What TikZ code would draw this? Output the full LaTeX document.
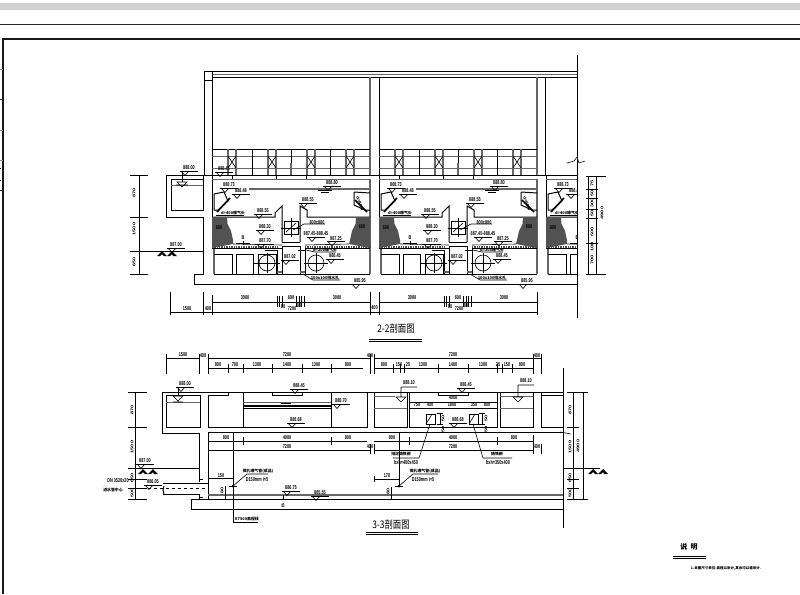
\documentclass[tikz,border=0pt]{standalone}
\usepackage{fontspec}
\setmainfont{Liberation Sans}
\newfontfamily\cjk{Noto Sans CJK SC}
\usetikzlibrary{calc, positioning}
\definecolor{cadgrey}{gray}{0.4}
\tikzset{
  wall/.style={line width=1pt, black},
  greywall/.style={line width=1.4pt, cadgrey},
  thinline/.style={line width=.6pt, black},
  dimline/.style={line width=.65pt, black},
  dimtxt/.style={font=\fontsize{5.6}{5.6}\selectfont\bfseries, transform shape, xscale=.68, inner sep=0pt},
  vdimtxt/.style={dimtxt, rotate=90},
  cjktxt/.style={font=\fontsize{3.9}{4}\selectfont\cjk\bfseries, inner sep=0pt},
  titletxt/.style={font=\fontsize{10.5}{10.5}\selectfont\cjk, transform shape, xscale=.8, inner sep=0pt},
  dark/.style={fill=black!68},
}
% elevation mark: name, x, y, text
\newcommand{\elevmark}[4]{
  \node[dimtxt] (#1) at (#2,#3) {#4};
  \draw[thinline] (#2-9,#3+3) -- (#2+9,#3+3);
  \draw[thinline] (#2-8,#3+3) -- (#2-4,#3+7.5) -- (#2,#3+3);
}
% ground hatch
\newcommand{\groundmark}[2]{
  \fill[black] (#1-10,#2+3) -- (#1-5,#2-2) -- (#1,#2+3) -- (#1+5,#2-2) -- (#1+10,#2+3)
    -- (#1+6,#2+3) -- (#1+5,#2+1) -- (#1+3,#2+3) -- (#1-3,#2+3) -- (#1-5,#2+1) -- (#1-7,#2+3) -- cycle;
}
\begin{document}
\begin{tikzpicture}[x=1pt, y=-1pt]
\useasboundingbox (0,0) rectangle (800,594);

% screen header and frame
\fill[black!18] (0,3) rectangle (800,10);
\draw[black!85, line width=.8pt] (0,24) -- (800,24);
\draw[black!90, line width=1.4pt] (800,39) -- (3,39) -- (3,594);
\foreach \ypos/\tone in {69/45, 99/85, 130/45, 160/45, 190/85} {
  \draw[black!\tone, line width=.7pt] (0,\ypos) -- (3,\ypos);
}
\draw[line width=1pt] (0,168) -- (1,168) (0,180) -- (1,180);

%%%% 2-2
\draw[wall] (204,80) -- (204,71) -- (577,71);
\draw[greywall, line width=.8pt] (212,74) -- (577,74);
\draw[wall] (212,77) -- (577,77);
\draw[wall] (204,80) -- (212,80);
\draw[wall] (204,80) -- (204,175);
\draw[wall] (212,71) -- (212,175);
\draw[greywall] (370,77) -- (370,175) (537,77) -- (537,175);
\draw[wall] (379,77) -- (379,175) (545,77) -- (545,175);
\draw[wall] (577,55) -- (577,318);
\draw[thinline] (567,163) -- (574,161) -- (577,157) -- (579,163) -- (585,161);

% screens
\foreach \bay in {0,167} {
  \begin{scope}[shift={(\bay,0)}]
    \draw[wall] (212,149) -- (370,149);
    \draw[greywall, line width=.9pt] (212,156) -- (370,156) (212,168) -- (370,168);
    \foreach \xpos in {228,236,252,268,276,291,307,315,330,346,354} {
      \draw[thinline] (\xpos,149) -- (\xpos,175);
    }
    \foreach \xpos in {228,268,307,346} {
      \draw[greywall, line width=1.1pt] (\xpos,149) -- (\xpos,175) (\xpos+8,149) -- (\xpos+8,175);
      \draw[thinline] (\xpos,156) -- (\xpos+8,168) (\xpos+8,156) -- (\xpos,168);
    }
    \draw[greywall] (291,163) -- (291,175);
    \foreach \xpos in {232,276,306} {
      \draw[wall] (\xpos,175) -- (\xpos,179);
    }
  \end{scope}
}

% tank bays
\begin{scope}
\clip (0,0) rectangle (577,594);
\foreach \bay in {0,167,334} {
  \begin{scope}[shift={(\bay,0)}]
    \draw[wall] (212,175) -- (212,248);
    \draw[greywall, line width=.9pt] (212,179) -- (370,179);
    \draw[greywall] (370,179) -- (370,274);
    \draw[greywall] (249,189) -- (370,189);
    \draw[thinline] (318,190) -- (332,190) (321,192) -- (329,192);
    % weirs
    \draw[wall] (214,194) -- (224,192) -- (228,201) -- (218,210) -- (214,210) -- cycle;
    \draw[wall, line width=1.6pt] (230,198) -- (217,212);
    \draw[wall] (354,192) -- (370,193) (354,192) -- (354,205) -- (365,210) -- (370,210);
    \draw[wall, line width=1.6pt] (355,200) -- (367,212);
    % water line
    \draw[wall] (212,217) -- (275,217) -- (275,213) -- (282,206) -- (282,242);
    \draw[wall] (370,217) -- (307,217) -- (307,210) -- (300,206) -- (300,242);
    \draw[thinline] (282,242) -- (300,242);
    % sludge hoppers
    \fill[dark] (212,217) -- (227,217) -- (227.5,224) -- (231,231) -- (233,240) -- (233,244) -- (212,248) -- cycle;
    \fill[dark] (370,217) -- (356,217) -- (355.5,224) -- (352,231) -- (350,240) -- (349,244) -- (370,248) -- cycle;
    \draw[thinline] (233,244) -- (282,245) (349,244) -- (305,245);
    \draw[black!70, line width=2pt, dash pattern=on 1pt off .7pt] (212,247) -- (278,247) (305,247) -- (370,247);
    \draw[wall] (212,248.5) -- (282,248.5) (305,248.5) -- (370,248.5);
    % centre box
    \draw[wall] (284,221) rectangle (298,234);
    \draw[thinline] (291,218) -- (291,237) (281,228) -- (301,228);
    \draw[thinline] (286,232) -- (296,223);
    \draw[thinline] (293,230) -- (304,224) -- (325,224);
    % lower rooms
    \draw[greywall, line width=1.2pt] (214,249) -- (214,274);
    \draw[wall] (214,254) -- (232,254) -- (232,274);
    \draw[wall] (236,274) -- (236,254) -- (253,254) -- (253,274);
    \draw[wall] (258,274) -- (258,254) -- (276,254) -- (276,274);
    \draw[thinline] (265,250) -- (277,250) -- (277,274);
    \draw[wall] (282,246) -- (300,246) -- (300,274) (282,246) -- (282,274);
    \draw[wall] (305,248) -- (305,274);
    \draw[wall] (214,274) -- (370,274);
    \draw[greywall, line width=1.5pt] (300,272) -- (305,272) (277,272) -- (282,272);
    \draw[thinline] (267,263) circle (8);
    \draw[thinline] (254,263) -- (280,263) (267,253) -- (267,273);
    \draw[thinline] (316,263) circle (8);
    \draw[thinline] (304,263) -- (328,263) (316,253) -- (316,273);
    % leaders
    \draw[line width=1pt] (298,250) -- (306,250);
    \draw[thinline] (306,250) -- (315,252) -- (336,252);
    \draw[thinline] (303,274) -- (313,280) -- (340,280);
    \draw[thinline] (216,215) -- (244,215);
    \elevmark{ea\bay}{229}{185}{888.73}
    \elevmark{eb\bay}{241}{191}{888.48}
    \elevmark{ec\bay}{332}{183}{888.80}
    \elevmark{ed\bay}{308}{200}{888.55}
    \elevmark{ee\bay}{263}{211}{888.55}
    \elevmark{ef\bay}{265}{227}{888.30}
    \elevmark{eg\bay}{265}{241}{887.70}
    \elevmark{eh\bay}{316}{234}{887.45-888.45}
    \elevmark{ei\bay}{336}{238.5}{887.25}
    \elevmark{ej\bay}{290}{257}{887.02}
    \elevmark{ek\bay}{335}{256}{888.45}
    \elevmark{el\bay}{360}{281}{885.95}
    \node[dimtxt] (ta\bay) at (317,223) {800x800};
    \node[cjktxt] (tb\bay) at (233,213) {d=400曝气头};
    \node[cjktxt] (tc\bay) at (325,250) {d=200曝气头};
    \node[cjktxt] (td\bay) at (325,278) {100x100排水孔};
    \node[dimtxt] (te\bay) at (219,228) {600};
    \node[dimtxt] (tf\bay) at (362,227) {600};
    \node[dimtxt] (tg\bay) at (243,238) {B};
    \draw[thinline] (236,243) -- (250,243) (243,241) -- (243,245);
    \node[dimtxt, rotate=-60] (th\bay) at (360,203) {d=400};
  \end{scope}
}
\end{scope}

% left tank and outer walls
\draw[wall] (166,217) -- (166,175) -- (577,175);
\draw[wall] (166,217) -- (203,217) -- (203,274) -- (194,274) -- (194,284) -- (577,284);
\draw[wall] (203,175) -- (203,179);
\draw[wall] (171,179) rectangle (203,210);
\draw[greywall, line width=.8pt] (171,185) -- (203,185);
\elevmark{ma}{189}{168}{888.00}
\draw[thinline] (182,171) -- (182,182);
\draw[thinline] (177,182) -- (182,187) -- (187,182) -- cycle (176,185) -- (188,185);
\elevmark{mb}{224}{169}{888.45}
\elevmark{mc}{176}{245}{887.00}
\draw[thinline] (130,251) -- (203,251);
\groundmark{167}{253}

% dimensions 2-2
\draw[thinline] (130,175) -- (148,175) (130,217) -- (148,217) (130,274) -- (148,274);
\draw[dimline] (139,175) -- (139,274);
\node[vdimtxt] (la) at (134,193) {870};
\node[vdimtxt] (lb) at (134,229) {1500};
\node[vdimtxt] (lc) at (134,262) {650};
\draw[dimline] (170,312) -- (370,312);
\draw[dimline] (170,292) -- (170,315) (203,292) -- (203,315);
\node[dimtxt] (da) at (187,309) {1500};
\node[dimtxt] (db) at (208,309) {400};
\foreach \bay in {0,167} {
  \begin{scope}[shift={(\bay,0)}]
    \draw[dimline] (212,312) -- (370,312) (212,302) -- (370,302);
    \draw[dimline] (212,295) -- (212,315) (370,292) -- (370,315);
    \foreach \xpos in {277,279,282,296,299,301,304} {
      \draw[dimline] (\xpos,296) -- (\xpos,307);
    }
    \node[dimtxt] (dc\bay) at (245,298) {3000};
    \node[dimtxt] (dd\bay) at (337,298) {3000};
    \node[dimtxt] (de\bay) at (291,298) {600};
    \node[dimtxt] (dh\bay) at (292,309) {7200};
    \node[dimtxt] (di\bay) at (283,307) {80};
    \node[dimtxt] (dj\bay) at (299,306) {80};
  \end{scope}
}
\draw[dimline] (370,312) -- (379,312) (379,292) -- (379,315);
\draw[dimline] (537,292) -- (537,315);
\node[dimtxt] (dk) at (374.5,308) {400};
\draw[dimline] (588,176) -- (588,274) (596,176) -- (596,274);
\foreach \ypos in {176,189,198,209,218,243,274} {
  \draw[dimline] (586,\ypos) -- (598,\ypos);
}
\draw[dimline] (596,176) -- (606,176) (596,274) -- (606,274);
\foreach \ypos/\val [count=\n] in {183/75, 193/50, 203/300, 213/50, 232/500, 247/100, 260/700} {
  \node[vdimtxt] (ra\n) at (592,\ypos) {\val};
}
\node[vdimtxt] (rb) at (602,213) {4900};

\node[titletxt] (tita) at (396,328) {2-2剖面图};
\draw[line width=1pt] (369,339) -- (422,339);
\draw[line width=.5pt] (369,341) -- (422,341);

%%%% 3-3
\draw[wall] (162,433) -- (162,392) -- (563,392);
\draw[wall] (563,368) -- (563,528);
\draw[wall] (162,433) -- (199,433) -- (199,482);
\draw[wall] (166,395) rectangle (200,427);
\draw[greywall, line width=.8pt] (166,402) -- (200,402);
\draw[wall] (208,427) -- (208,395) -- (228,395) -- (228,392);
\draw[wall] (208,427) -- (243,427) -- (243,392);
\draw[greywall, line width=.8pt] (243,402) -- (331,402);
\draw[wall, line width=1.3pt] (243,406) -- (331,406);
\draw[wall] (243,408) -- (331,408);
\draw[wall] (272,392) -- (272,395) -- (302,395) -- (302,392);
\draw[wall] (243,427) -- (367,427) -- (367,392);
\draw[wall] (331,392) -- (331,427);
\draw[wall] (374,392) -- (374,427) -- (407,427) -- (407,392);
\draw[greywall, line width=.8pt] (374,396) -- (395,396) (374,408) -- (407,408);
\draw[wall] (409,392) -- (409,427) -- (497,427) -- (497,392);
\draw[thinline] (409,402) -- (497,402);
\draw[wall] (409,408) -- (497,408);
\draw[wall] (438,392) -- (438,395) -- (468,395) -- (468,392);
\draw[wall] (500,392) -- (500,427) -- (533,427) -- (533,392);
\draw[greywall, line width=.8pt] (500,396) -- (533,396) (500,408) -- (533,408);
\draw[wall] (541,392) -- (541,427) -- (563,427);
\draw[wall] (541,395) -- (563,395);
\draw[wall] (426,414) rectangle (435,424);
\draw[wall] (469,414) rectangle (478,424);
\draw[thinline] (426,424) -- (432,414) (469,424) -- (475,414);

\draw[wall] (563,509) -- (191,509) -- (191,499) -- (208,499) -- (208,432) -- (563,432);
\draw[wall] (208,499) -- (563,499);
\draw[greywall] (208,495) -- (563,495);
\draw[thinline] (560,432) -- (571,434);
% inlet pipe
\draw[wall] (163,483) -- (208,483) (163,494) -- (199,494);
\draw[wall] (199,494) -- (199,499);
\draw[thinline, dashed] (130,488) -- (208,488);
\draw[wall] (164,486) -- (163,490) -- (164,494);
\draw[wall] (199,479) -- (203,479) (199,497) -- (203,497);
\draw[thinline] (135,468) -- (199,468) (563,468) -- (600,468);
\groundmark{148}{471}
\groundmark{598}{471}

% dimensions 3-3
\draw[dimline] (166,358) -- (199,358) (208,358) -- (370,358) (374,358) -- (533,358) (533,358) -- (541,358);
\draw[dimline] (208,368) -- (363,368) (374,368) -- (533,368);
\foreach \xpos in {166,199,208,370,374,533,541} {
  \draw[dimline] (\xpos,354) -- (\xpos,374);
}
\foreach \xpos in {228,243,272,302,331,393,400,404,438,468,497,502,512} {
  \draw[dimline] (\xpos,364) -- (\xpos,373);
}
\foreach \xpos/\ypos/\val [count=\n] in {183/355/1500, 203/356/400, 287/355/7200, 218/365/800, 235/365/700, 257/365/1300, 287/365/1400, 316/365/1300, 348/365/800,
    370/356/400, 453/355/7200, 537/356/400, 384/365/800, 399/365/150, 408/365/25, 423/365/1300, 453/365/1400, 483/365/1300, 498/365/25, 507/365/150, 522/365/800,
    226/438/800, 287/438/4000, 348/438/800, 287/447/7200, 392/438/800, 453/438/4000, 514/438/800, 453/447/7200, 370/447/400, 537/447/400, 453/398/4000, 417/405/750, 430/405/400, 452/405/1800, 474/405/350, 487/405/800, 221/476/150, 387/476/170} {
  \node[dimtxt] (n\n) at (\xpos,\ypos) {\val};
}
\foreach \xpos/\ypos/\val [count=\n] in {132/410/870, 132/447/1500, 132/478/650, 132/493/500, 570/410/870, 570/447/1500, 570/478/650, 570/493/500, 578/446/4900, 222/490/80, 388/491/80, 443/418/50, 443/429/50, 486/418/50, 486/429/50, 283/505/B} {
  \node[vdimtxt] (v\n) at (\xpos,\ypos) {\val};
}
\draw[dimline] (135,392) -- (135,499) (573,392) -- (573,499) (583,392) -- (583,499);
\foreach \ypos in {392,427,468,479,488,499} {
  \draw[dimline] (128,\ypos) -- (147,\ypos) (567,\ypos) -- (579,\ypos);
}
\draw[dimline] (579,392) -- (588,392) (579,499) -- (588,499);
\draw[dimline] (208,441) -- (367,441) (374,441) -- (533,441) (208,450) -- (370,450) (374,450) -- (533,450);
\draw[dimline] (243,437) -- (243,445) (331,437) -- (331,445) (409,437) -- (409,445) (497,437) -- (497,445);
\draw[dimline] (370,444) -- (370,454) (374,444) -- (374,454) (533,435) -- (533,454) (541,444) -- (541,454);
\draw[dimline] (440,413) -- (440,424) (437,413) -- (443,413) (437,424) -- (443,424);
\draw[dimline] (482,413) -- (482,424) (479,413) -- (485,413) (479,424) -- (485,424);
\draw[dimline] (208,478) -- (233,478) (374,479) -- (400,479) (374,476) -- (374,482);
\draw[dimline] (225,486) -- (225,499) (391,487) -- (391,500) (283,495) -- (283,499);

\elevmark{pa}{185}{384}{888.00}
\draw[thinline] (178,387) -- (178,396);
\draw[thinline] (173,396) -- (178,401) -- (183,396) -- cycle (173,402) -- (183,402);
\elevmark{pb}{299}{386}{888.45}
\elevmark{pc}{341}{401}{888.70}
\draw[thinline] (281,403) -- (291,403) (283,405) -- (289,405);
\elevmark{pd}{296}{420}{888.68}
\elevmark{pe}{145}{461}{887.00}
\elevmark{pf}{153}{482}{886.05}
\elevmark{pg}{291}{488}{886.75}
\elevmark{ph}{320}{493}{885.55}
\elevmark{pi}{466}{385}{888.45}
\elevmark{pj}{458}{420}{888.68}
\node[dimtxt] (pk) at (409,383) {888.10};
\draw[thinline] (401,387) -- (417,387) (401,387) -- (401,397) (396,397) -- (401,402) -- (406,397) -- cycle;
\node[dimtxt] (pl) at (526,381) {888.10};
\draw[thinline] (518,385) -- (534,385) (518,385) -- (518,397) (513,397) -- (518,402) -- (523,397) -- cycle;

% diffusers and leaders
\fill (233,486) circle (1.5);
\fill (399,486) circle (1.5);
\draw[thinline] (229,486) -- (237,486) (395,486) -- (403,486);
\draw[thinline] (233,432) -- (233,522) -- (258,522);
\draw[thinline] (399,432) -- (399,486);
\draw[thinline] (233,486) -- (247,474) -- (268,474);
\draw[thinline] (399,486) -- (413,474) -- (438,474);
\draw[thinline] (430,424) -- (419,458) -- (393,458);
\draw[thinline] (473,424) -- (483,458) -- (512,458);
\node[cjktxt] (qa) at (258,471) {微孔曝气管(成品)};
\node[dimtxt] (qb) at (257,479) {D150mm i=5};
\node[cjktxt] (qc) at (425,471) {微孔曝气管(成品)};
\node[dimtxt] (qd) at (423,479) {D150mm i=5};
\node[cjktxt] (qe) at (247,519) {E7500高程线};
\node[cjktxt] (qf) at (401,454) {排泥铸铁闸};
\node[dimtxt] (qg) at (406,462) {bxh=400x450};
\node[cjktxt] (qh) at (497,454) {铸铁闸};
\node[dimtxt] (qi) at (498,462) {bxh=350x400};
\node[dimtxt] (qj) at (118,481) {DN 3520x20};
\node[cjktxt] (qk) at (113,490) {进水管中心};

\node[titletxt] (titb) at (391,524) {3-3剖面图};
\draw[line width=1pt] (366,532) -- (418,532);
\draw[line width=.5pt] (366,534) -- (418,534);

% notes
\node[font=\fontsize{7}{7}\selectfont\cjk\bfseries, inner sep=0pt] (shuo) at (689,547) {说\ \ 明};
\draw[line width=.8pt] (673,556) -- (706,556);
\draw[line width=.8pt] (673,558) -- (706,558);
\node[font=\fontsize{3.5}{4}\selectfont\cjk\bfseries, inner sep=0pt] (note) at (726,568) {1.本图尺寸单位:高程以米计,其余均以毫米计.};
\end{tikzpicture}
\end{document}
